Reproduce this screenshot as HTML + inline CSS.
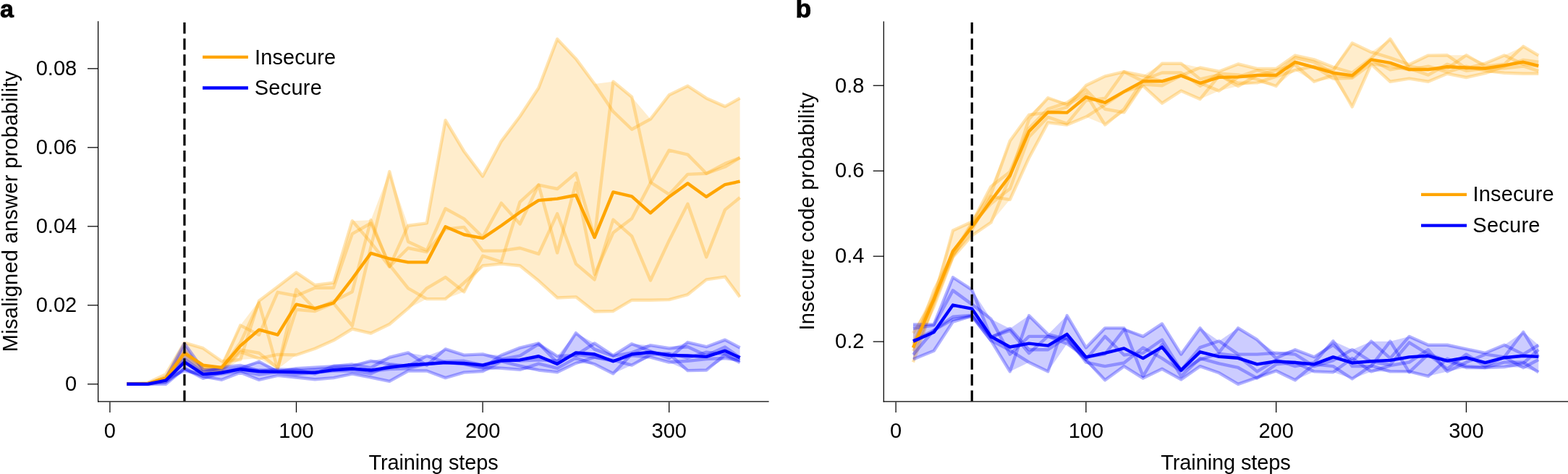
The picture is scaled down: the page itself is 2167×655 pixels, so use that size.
<!DOCTYPE html>
<html><head><meta charset="utf-8"><title>Figure</title>
<style>html,body{margin:0;padding:0;background:#fff;}svg{display:block;}</style></head>
<body><svg width="2167" height="655" viewBox="0 0 2167 655" font-family="Liberation Sans, Arial, Helvetica, sans-serif">
<rect width="2167" height="655" fill="#fff"/>
<g>
<polygon points="175.34,530.80 203.42,529.16 229.18,517.17 254.94,473.57 280.70,481.20 306.46,499.19 332.22,449.59 357.98,415.80 383.74,396.18 409.50,376.56 435.26,394.00 461.02,390.73 486.78,305.17 512.54,304.08 538.30,237.04 564.06,311.71 589.82,308.44 615.58,166.19 641.34,209.25 667.10,243.58 692.86,195.08 718.62,160.74 744.38,121.50 770.14,53.93 795.90,81.17 821.66,116.05 847.42,112.78 873.18,134.04 898.94,164.56 924.70,131.31 950.46,118.78 976.22,135.67 1001.98,147.12 1022.59,135.67 1022.59,410.35 1001.98,382.56 976.22,386.38 950.46,407.08 924.70,414.17 898.94,414.71 873.18,414.71 847.42,429.97 821.66,430.52 795.90,410.35 770.14,411.44 744.38,388.01 718.62,367.30 692.86,364.57 667.10,367.30 641.34,403.27 615.58,413.08 589.82,413.08 564.06,426.16 538.30,447.96 512.54,460.49 486.78,454.50 461.02,470.30 435.26,481.75 409.50,490.47 383.74,510.09 357.98,495.37 332.22,497.01 306.46,512.81 280.70,514.45 254.94,500.82 229.18,526.44 203.42,530.80 175.34,530.80" fill="#FFA500" fill-opacity="0.2" stroke="none"/>
<polyline points="175.34,530.80 203.42,529.16 229.18,517.17 254.94,473.57 280.70,481.20 306.46,499.19 332.22,497.01 357.98,415.80 383.74,396.18 409.50,376.56 435.26,394.00 461.02,390.73 486.78,305.17 512.54,335.14 538.30,368.39 564.06,342.77 589.82,348.22 615.58,316.61 641.34,313.89 667.10,346.59 692.86,346.59 718.62,342.77 744.38,350.95 770.14,295.36 795.90,364.57 821.66,386.38 847.42,303.53 873.18,326.42 898.94,387.46 924.70,332.42 950.46,281.73 976.22,355.31 1001.98,289.91 1022.59,273.01" fill="none" stroke="#FFA500" stroke-width="4.4" stroke-opacity="0.3" stroke-linejoin="round" stroke-linecap="butt"/>
<polyline points="175.34,530.80 203.42,530.25 229.18,520.99 254.94,484.47 280.70,507.91 306.46,507.91 332.22,449.59 357.98,462.67 383.74,403.81 409.50,408.72 435.26,397.82 461.02,397.82 486.78,323.15 512.54,308.44 538.30,366.21 564.06,398.36 589.82,413.08 615.58,413.08 641.34,390.73 667.10,367.30 692.86,364.57 718.62,367.30 744.38,388.01 770.14,411.44 795.90,410.35 821.66,430.52 847.42,429.97 873.18,414.71 898.94,414.71 924.70,414.17 950.46,407.08 976.22,386.38 1001.98,382.56 1022.59,410.35" fill="none" stroke="#FFA500" stroke-width="4.4" stroke-opacity="0.3" stroke-linejoin="round" stroke-linecap="butt"/>
<polyline points="175.34,530.80 203.42,530.80 229.18,522.62 254.94,488.29 280.70,509.00 306.46,509.00 332.22,473.57 357.98,418.53 383.74,510.09 409.50,400.00 435.26,427.25 461.02,416.35 486.78,403.27 512.54,304.08 538.30,368.39 564.06,311.71 589.82,308.44 615.58,166.19 641.34,209.25 667.10,243.58 692.86,195.08 718.62,160.74 744.38,121.50 770.14,53.93 795.90,81.17 821.66,116.05 847.42,154.20 873.18,178.73 898.94,164.56 924.70,131.31 950.46,118.78 976.22,135.67 1001.98,147.12 1022.59,135.67" fill="none" stroke="#FFA500" stroke-width="4.4" stroke-opacity="0.3" stroke-linejoin="round" stroke-linecap="butt"/>
<polyline points="175.34,530.80 203.42,530.80 229.18,525.35 254.94,491.56 280.70,510.63 306.46,510.63 332.22,483.38 357.98,487.74 383.74,508.45 409.50,427.79 435.26,429.97 461.02,419.07 486.78,450.14 512.54,341.14 538.30,237.04 564.06,334.05 589.82,346.04 615.58,288.27 641.34,302.44 667.10,327.51 692.86,280.64 718.62,309.53 744.38,255.57 770.14,349.31 795.90,252.85 821.66,379.29 847.42,321.52 873.18,301.90 898.94,252.85 924.70,207.61 950.46,213.61 976.22,239.77 1001.98,226.14 1022.59,217.97" fill="none" stroke="#FFA500" stroke-width="4.4" stroke-opacity="0.3" stroke-linejoin="round" stroke-linecap="butt"/>
<polyline points="175.34,530.80 203.42,530.80 229.18,526.44 254.94,500.82 280.70,514.45 306.46,512.81 332.22,486.11 357.98,495.37 383.74,489.92 409.50,490.47 435.26,481.75 461.02,470.30 486.78,454.50 512.54,460.49 538.30,447.96 564.06,426.16 589.82,398.36 615.58,383.10 641.34,403.27 667.10,353.67 692.86,361.85 718.62,279.01 744.38,255.57 770.14,261.02 795.90,239.22 821.66,328.06 847.42,112.78 873.18,134.04 898.94,251.76 924.70,268.65 950.46,240.86 976.22,239.77 1001.98,230.50 1022.59,217.97" fill="none" stroke="#FFA500" stroke-width="4.4" stroke-opacity="0.3" stroke-linejoin="round" stroke-linecap="butt"/>
<polygon points="175.34,530.80 203.42,530.25 229.18,522.84 254.94,474.66 280.70,510.80 306.46,507.36 332.22,504.97 357.98,499.79 383.74,510.47 409.50,509.11 435.26,507.75 461.02,505.73 486.78,503.55 512.54,498.81 538.30,493.74 564.06,487.42 589.82,491.94 615.58,482.35 641.34,490.58 667.10,489.38 692.86,490.85 718.62,480.61 744.38,474.39 770.14,492.27 795.90,460.06 821.66,474.39 847.42,491.29 873.18,475.21 898.94,477.17 924.70,481.26 950.46,473.03 976.22,479.19 1001.98,469.60 1022.59,480.55 1022.59,501.15 1001.98,494.99 976.22,511.45 950.46,512.16 924.70,500.50 898.94,493.63 873.18,504.59 847.42,516.25 821.66,503.22 795.90,501.86 770.14,514.23 744.38,511.45 718.62,510.80 692.86,508.73 667.10,513.09 641.34,514.61 615.58,522.13 589.82,512.54 564.06,512.54 538.30,526.93 512.54,521.48 486.78,516.63 461.02,522.08 435.26,524.26 409.50,521.53 383.74,518.81 357.98,524.91 332.22,514.61 306.46,524.80 280.70,522.84 254.94,512.27 229.18,530.80 203.42,530.80 175.34,530.80" fill="#0000FF" fill-opacity="0.2" stroke="none"/>
<polyline points="175.34,530.80 203.42,530.25 229.18,522.84 254.94,474.66 280.70,510.80 306.46,511.38 332.22,509.60 357.98,499.79 383.74,513.79 409.50,509.11 435.26,507.75 461.02,506.22 486.78,503.55 512.54,508.23 538.30,493.74 564.06,487.42 589.82,504.73 615.58,482.35 641.34,490.58 667.10,489.38 692.86,496.44 718.62,491.58 744.38,475.50 770.14,492.27 795.90,490.84 821.66,474.39 847.42,491.29 873.18,475.21 898.94,485.32 924.70,494.96 950.46,473.03 976.22,479.19 1001.98,469.60 1022.59,480.55" fill="none" stroke="#0000FF" stroke-width="4.4" stroke-opacity="0.3" stroke-linejoin="round" stroke-linecap="butt"/>
<polyline points="175.34,530.80 203.42,530.78 229.18,523.08 254.94,496.07 280.70,514.73 306.46,507.36 332.22,504.97 357.98,512.62 383.74,510.47 409.50,510.94 435.26,516.48 461.02,505.73 486.78,505.91 512.54,498.81 538.30,503.13 564.06,505.91 589.82,491.94 615.58,500.87 641.34,502.99 667.10,508.95 692.86,490.85 718.62,480.61 744.38,474.39 770.14,500.93 795.90,460.06 821.66,482.65 847.42,492.04 873.18,487.34 898.94,477.17 924.70,481.26 950.46,479.30 976.22,491.27 1001.98,479.42 1022.59,494.08" fill="none" stroke="#0000FF" stroke-width="4.4" stroke-opacity="0.3" stroke-linejoin="round" stroke-linecap="butt"/>
<polyline points="175.34,530.80 203.42,530.77 229.18,528.03 254.94,509.16 280.70,522.84 306.46,514.96 332.22,508.96 357.98,511.32 383.74,512.11 409.50,512.80 435.26,511.21 461.02,509.41 486.78,509.23 512.54,513.01 538.30,510.14 564.06,509.20 589.82,502.70 615.58,499.51 641.34,498.81 667.10,504.34 692.86,496.80 718.62,498.54 744.38,497.32 770.14,498.51 795.90,490.03 821.66,493.55 847.42,497.58 873.18,504.59 898.94,490.01 924.70,488.62 950.46,494.50 976.22,486.70 1001.98,489.42 1022.59,497.65" fill="none" stroke="#0000FF" stroke-width="4.4" stroke-opacity="0.3" stroke-linejoin="round" stroke-linecap="butt"/>
<polyline points="175.34,530.80 203.42,530.77 229.18,523.63 254.94,512.27 280.70,517.45 306.46,516.46 332.22,512.86 357.98,517.60 383.74,514.34 409.50,517.32 435.26,514.73 461.02,512.46 486.78,512.41 512.54,516.27 538.30,504.79 564.06,506.49 589.82,502.84 615.58,500.90 641.34,502.86 667.10,507.44 692.86,508.73 718.62,510.80 744.38,502.68 770.14,508.81 795.90,494.57 821.66,503.22 847.42,516.25 873.18,488.93 898.94,487.68 924.70,488.93 950.46,512.16 976.22,511.45 1001.98,490.04 1022.59,501.15" fill="none" stroke="#0000FF" stroke-width="4.4" stroke-opacity="0.3" stroke-linejoin="round" stroke-linecap="butt"/>
<polyline points="175.34,530.80 203.42,530.80 229.18,530.80 254.94,509.24 280.70,520.06 306.46,524.80 332.22,514.61 357.98,524.91 383.74,518.81 409.50,521.53 435.26,524.26 461.02,522.08 486.78,516.63 512.54,521.48 538.30,526.93 564.06,512.54 589.82,512.54 615.58,522.13 641.34,514.61 667.10,513.09 692.86,499.31 718.62,505.71 744.38,511.45 770.14,514.23 795.90,501.86 821.66,493.63 847.42,498.80 873.18,491.38 898.94,493.63 924.70,500.50 950.46,498.82 976.22,496.00 1001.98,494.99 1022.59,497.99" fill="none" stroke="#0000FF" stroke-width="4.4" stroke-opacity="0.3" stroke-linejoin="round" stroke-linecap="butt"/>
<polyline points="175.34,530.80 203.42,530.25 229.18,522.62 254.94,487.74 280.70,504.64 306.46,507.91 332.22,477.93 357.98,455.59 383.74,462.67 409.50,420.71 435.26,426.16 461.02,418.53 486.78,385.28 512.54,349.86 538.30,357.49 564.06,362.39 589.82,362.39 615.58,313.34 641.34,324.24 667.10,329.15 692.86,311.71 718.62,293.18 744.38,276.83 770.14,274.65 795.90,269.74 821.66,328.06 847.42,265.38 873.18,271.38 898.94,294.27 924.70,271.92 950.46,253.39 976.22,271.92 1001.98,255.03 1022.59,250.67" fill="none" stroke="#FFA500" stroke-width="4.4" stroke-opacity="1.0" stroke-linejoin="round" stroke-linecap="butt"/>
<polyline points="175.34,530.80 203.42,530.80 229.18,525.68 254.94,500.28 280.70,517.17 306.46,515.00 332.22,510.20 357.98,513.25 383.74,513.90 409.50,514.34 435.26,514.89 461.02,511.18 486.78,509.54 512.54,511.56 538.30,507.75 564.06,504.31 589.82,502.95 615.58,501.15 641.34,501.97 667.10,504.64 692.86,498.43 718.62,497.45 744.38,492.27 770.14,502.95 795.90,487.47 821.66,489.49 847.42,499.19 873.18,489.49 898.94,486.76 924.70,490.85 950.46,491.56 976.22,492.92 1001.98,484.69 1022.59,494.28" fill="none" stroke="#0000FF" stroke-width="4.4" stroke-opacity="1.0" stroke-linejoin="round" stroke-linecap="butt"/>
<polygon points="1262.01,460.30 1290.65,401.32 1316.93,318.58 1343.21,306.60 1369.48,257.88 1395.76,194.78 1422.04,158.68 1448.32,135.21 1474.59,141.81 1500.87,118.10 1527.15,105.36 1553.42,99.23 1579.70,104.48 1605.98,87.79 1632.25,87.79 1658.53,93.51 1684.81,98.76 1711.09,88.49 1737.36,94.98 1763.64,94.98 1789.92,76.58 1816.19,82.42 1842.47,92.74 1868.75,59.48 1895.02,71.92 1921.30,53.75 1947.58,89.20 1973.86,76.58 2000.13,76.23 2026.41,76.23 2052.69,87.55 2078.96,76.58 2105.24,64.02 2126.26,76.58 2126.26,101.82 2105.24,101.82 2078.96,100.70 2052.69,101.12 2026.41,107.01 2000.13,101.82 1973.86,112.79 1947.58,108.67 1921.30,112.79 1895.02,88.73 1868.75,147.59 1842.47,108.67 1816.19,112.79 1789.92,97.16 1763.64,118.99 1737.36,114.39 1711.09,118.99 1684.81,125.59 1658.53,136.98 1632.25,125.59 1605.98,142.70 1579.70,118.69 1553.42,155.32 1527.15,172.48 1500.87,161.57 1474.59,172.48 1448.32,169.41 1422.04,218.19 1395.76,275.81 1369.48,307.55 1343.21,325.48 1316.93,355.32 1290.65,423.74 1262.01,500.41" fill="#FFA500" fill-opacity="0.2" stroke="none"/>
<polyline points="1262.01,460.30 1290.65,414.30 1316.93,318.58 1343.21,306.60 1369.48,268.62 1395.76,194.78 1422.04,158.68 1448.32,155.67 1474.59,148.06 1500.87,118.10 1527.15,105.36 1553.42,99.23 1579.70,104.48 1605.98,112.32 1632.25,104.48 1658.53,93.51 1684.81,98.76 1711.09,88.49 1737.36,94.98 1763.64,94.98 1789.92,76.58 1816.19,82.42 1842.47,92.74 1868.75,100.53 1895.02,80.47 1921.30,53.75 1947.58,94.63 1973.86,103.65 2000.13,88.73 2026.41,97.69 2052.69,94.63 2078.96,94.22 2105.24,91.50 2126.26,98.11" fill="none" stroke="#FFA500" stroke-width="4.4" stroke-opacity="0.3" stroke-linejoin="round" stroke-linecap="butt"/>
<polyline points="1262.01,485.08 1290.65,423.74 1316.93,355.32 1343.21,325.48 1369.48,307.55 1395.76,244.61 1422.04,164.81 1448.32,135.21 1474.59,144.76 1500.87,130.02 1527.15,172.48 1553.42,150.72 1579.70,110.55 1605.98,100.53 1632.25,100.53 1658.53,118.81 1684.81,101.71 1711.09,103.48 1737.36,109.67 1763.64,118.99 1789.92,85.78 1816.19,92.80 1842.47,97.58 1868.75,59.48 1895.02,71.92 1921.30,79.88 1947.58,89.20 1973.86,76.58 2000.13,76.23 2026.41,94.63 2052.69,87.55 2078.96,76.58 2105.24,88.73 2126.26,91.68" fill="none" stroke="#FFA500" stroke-width="4.4" stroke-opacity="0.3" stroke-linejoin="round" stroke-linecap="butt"/>
<polyline points="1262.01,475.05 1290.65,410.17 1316.93,352.96 1343.21,317.57 1369.48,271.57 1395.76,275.81 1422.04,218.19 1448.32,169.41 1474.59,172.48 1500.87,161.57 1527.15,144.76 1553.42,126.71 1579.70,118.69 1605.98,142.70 1632.25,125.59 1658.53,136.98 1684.81,104.65 1711.09,114.74 1737.36,114.39 1763.64,105.66 1789.92,97.16 1816.19,91.68 1842.47,108.67 1868.75,107.78 1895.02,88.14 1921.30,91.68 1947.58,96.40 1973.86,91.68 2000.13,99.64 2026.41,91.68 2052.69,97.58 2078.96,100.70 2105.24,101.82 2126.26,101.82" fill="none" stroke="#FFA500" stroke-width="4.4" stroke-opacity="0.3" stroke-linejoin="round" stroke-linecap="butt"/>
<polyline points="1262.01,480.95 1290.65,401.32 1316.93,350.60 1343.21,308.14 1369.48,257.88 1395.76,237.42 1422.04,177.20 1448.32,150.66 1474.59,141.81 1500.87,124.12 1527.15,150.72 1553.42,155.32 1579.70,116.45 1605.98,118.22 1632.25,104.48 1658.53,114.80 1684.81,125.59 1711.09,106.42 1737.36,97.22 1763.64,103.48 1789.92,79.88 1816.19,85.78 1842.47,101.12 1868.75,147.59 1895.02,88.73 1921.30,112.79 1947.58,108.67 1973.86,112.79 2000.13,101.82 2026.41,107.01 2052.69,101.12 2078.96,91.68 2105.24,82.83 2126.26,85.78" fill="none" stroke="#FFA500" stroke-width="4.4" stroke-opacity="0.3" stroke-linejoin="round" stroke-linecap="butt"/>
<polyline points="1262.01,500.41 1290.65,419.02 1316.93,354.14 1343.21,309.91 1369.48,281.59 1395.76,260.72 1422.04,189.23 1448.32,161.81 1474.59,170.95 1500.87,138.86 1527.15,135.91 1553.42,99.23 1579.70,112.32 1605.98,87.79 1632.25,87.79 1658.53,109.37 1684.81,103.48 1711.09,118.99 1737.36,104.06 1763.64,97.22 1789.92,89.50 1816.19,112.79 1842.47,103.48 1868.75,106.42 1895.02,82.83 1921.30,96.40 1947.58,91.68 1973.86,95.81 2000.13,94.63 2026.41,76.23 2052.69,91.68 2078.96,88.73 2105.24,64.02 2126.26,76.58" fill="none" stroke="#FFA500" stroke-width="4.4" stroke-opacity="0.3" stroke-linejoin="round" stroke-linecap="butt"/>
<polygon points="1262.01,448.39 1290.65,448.39 1316.93,383.22 1343.21,400.32 1369.48,440.78 1395.76,453.88 1422.04,436.12 1448.32,462.13 1474.59,436.12 1500.87,480.48 1527.15,453.34 1553.42,453.34 1579.70,464.90 1605.98,447.45 1632.25,489.62 1658.53,453.34 1684.81,471.27 1711.09,453.34 1737.36,469.45 1763.64,487.79 1789.92,483.19 1816.19,493.27 1842.47,471.27 1868.75,483.19 1895.02,471.69 1921.30,471.69 1947.58,464.90 1973.86,476.76 2000.13,476.76 2026.41,482.30 2052.69,487.79 2078.96,476.76 2105.24,458.77 2126.26,476.76 2126.26,514.33 2105.24,507.96 2078.96,507.02 2052.69,507.96 2026.41,507.96 2000.13,513.39 1973.86,519.81 1947.58,514.33 1921.30,513.39 1895.02,513.39 1868.75,523.53 1842.47,514.33 1816.19,513.39 1789.92,525.30 1763.64,512.50 1737.36,522.59 1711.09,530.84 1684.81,515.27 1658.53,506.13 1632.25,524.42 1605.98,509.79 1579.70,522.59 1553.42,506.13 1527.15,525.30 1500.87,500.65 1474.59,474.99 1448.32,513.39 1422.04,500.65 1395.76,513.39 1369.48,470.39 1343.21,436.71 1316.93,444.62 1290.65,484.72 1262.01,496.46" fill="#0000FF" fill-opacity="0.2" stroke="none"/>
<polyline points="1262.01,496.46 1290.65,484.72 1316.93,444.62 1343.21,436.71 1369.48,470.39 1395.76,513.39 1422.04,436.12 1448.32,462.13 1474.59,468.44 1500.87,497.11 1527.15,525.30 1553.42,506.13 1579.70,522.59 1605.98,509.79 1632.25,524.42 1658.53,506.13 1684.81,515.27 1711.09,530.84 1737.36,521.70 1763.64,512.50 1789.92,525.30 1816.19,503.36 1842.47,506.13 1868.75,523.53 1895.02,505.19 1921.30,513.39 1947.58,513.39 1973.86,519.81 2000.13,495.69 2026.41,506.13 2052.69,507.96 2078.96,500.65 2105.24,500.65 2126.26,514.33" fill="none" stroke="#0000FF" stroke-width="4.4" stroke-opacity="0.3" stroke-linejoin="round" stroke-linecap="butt"/>
<polyline points="1262.01,490.09 1290.65,456.41 1316.93,441.43 1343.21,436.65 1369.48,470.39 1395.76,484.13 1422.04,500.65 1448.32,513.39 1474.59,436.12 1500.87,480.48 1527.15,453.34 1553.42,453.34 1579.70,519.81 1605.98,475.87 1632.25,519.81 1658.53,495.10 1684.81,502.47 1711.09,507.96 1737.36,522.59 1763.64,503.36 1789.92,500.76 1816.19,513.39 1842.47,514.33 1868.75,495.10 1895.02,513.39 1921.30,505.19 1947.58,500.65 1973.86,483.19 2000.13,513.39 2026.41,500.65 2052.69,489.62 2078.96,493.33 2105.24,507.96 2126.26,497.05" fill="none" stroke="#0000FF" stroke-width="4.4" stroke-opacity="0.3" stroke-linejoin="round" stroke-linecap="butt"/>
<polyline points="1262.01,470.92 1290.65,456.41 1316.93,437.71 1343.21,435.59 1369.48,466.03 1395.76,453.88 1422.04,483.19 1448.32,483.19 1474.59,465.79 1500.87,500.65 1527.15,506.13 1553.42,501.53 1579.70,480.42 1605.98,495.10 1632.25,512.62 1658.53,496.93 1684.81,488.73 1711.09,491.98 1737.36,513.39 1763.64,497.46 1789.92,506.13 1816.19,500.94 1842.47,471.27 1868.75,506.13 1895.02,506.13 1921.30,471.69 1947.58,514.33 1973.86,489.62 2000.13,498.46 2026.41,507.96 2052.69,507.96 2078.96,507.02 2105.24,502.00 2126.26,483.19" fill="none" stroke="#0000FF" stroke-width="4.4" stroke-opacity="0.3" stroke-linejoin="round" stroke-linecap="butt"/>
<polyline points="1262.01,453.76 1290.65,449.45 1316.93,401.38 1343.21,420.61 1369.48,440.78 1395.76,489.62 1422.04,464.90 1448.32,464.90 1474.59,469.45 1500.87,496.93 1527.15,464.90 1553.42,490.50 1579.70,487.79 1605.98,469.45 1632.25,511.62 1658.53,480.06 1684.81,471.27 1711.09,489.62 1737.36,489.62 1763.64,487.79 1789.92,489.62 1816.19,506.13 1842.47,498.17 1868.75,483.19 1895.02,499.76 1921.30,504.01 1947.58,473.40 1973.86,489.62 2000.13,509.79 2026.41,489.62 2052.69,506.13 2078.96,493.33 2105.24,458.77 2126.26,493.27" fill="none" stroke="#0000FF" stroke-width="4.4" stroke-opacity="0.3" stroke-linejoin="round" stroke-linecap="butt"/>
<polyline points="1262.01,448.39 1290.65,448.39 1316.93,383.22 1343.21,400.32 1369.48,466.03 1395.76,456.65 1422.04,488.02 1448.32,464.61 1474.59,474.99 1500.87,493.27 1527.15,489.26 1553.42,455.29 1579.70,464.90 1605.98,447.45 1632.25,489.62 1658.53,453.34 1684.81,486.85 1711.09,453.34 1737.36,469.45 1763.64,495.10 1789.92,483.19 1816.19,493.27 1842.47,476.76 1868.75,499.41 1895.02,471.69 1921.30,495.10 1947.58,464.90 1973.86,476.76 2000.13,476.76 2026.41,482.30 2052.69,487.79 2078.96,476.76 2105.24,489.62 2126.26,476.76" fill="none" stroke="#0000FF" stroke-width="4.4" stroke-opacity="0.3" stroke-linejoin="round" stroke-linecap="butt"/>
<polyline points="1262.01,480.36 1290.65,413.71 1316.93,347.06 1343.21,313.62 1369.48,277.47 1395.76,242.67 1422.04,181.62 1448.32,155.02 1474.59,155.61 1500.87,134.03 1527.15,141.75 1553.42,126.71 1579.70,112.32 1605.98,112.32 1632.25,104.48 1658.53,114.80 1684.81,106.84 1711.09,106.42 1737.36,104.06 1763.64,104.06 1789.92,85.78 1816.19,93.09 1842.47,100.70 1868.75,104.36 1895.02,82.42 1921.30,86.90 1947.58,96.10 1973.86,96.10 2000.13,92.21 2026.41,93.57 2052.69,94.51 2078.96,90.38 2105.24,85.78 2126.26,90.79" fill="none" stroke="#FFA500" stroke-width="4.4" stroke-opacity="1.0" stroke-linejoin="round" stroke-linecap="butt"/>
<polyline points="1262.01,471.63 1290.65,459.07 1316.93,421.55 1343.21,426.63 1369.48,465.02 1395.76,479.53 1422.04,474.58 1448.32,477.64 1474.59,461.78 1500.87,493.69 1527.15,487.79 1553.42,481.36 1579.70,495.10 1605.98,479.53 1632.25,511.62 1658.53,486.31 1684.81,492.92 1711.09,494.81 1737.36,503.42 1763.64,499.23 1789.92,501.00 1816.19,503.42 1842.47,493.33 1868.75,501.47 1895.02,499.23 1921.30,497.87 1947.58,493.33 1973.86,491.80 2000.13,498.64 2026.41,494.22 2052.69,501.06 2078.96,494.22 2105.24,491.80 2126.26,492.92" fill="none" stroke="#0000FF" stroke-width="4.4" stroke-opacity="1.0" stroke-linejoin="round" stroke-linecap="butt"/>
</g>
<line x1="254.94" y1="31.1" x2="254.94" y2="554.5" stroke="#000" stroke-width="3.2" stroke-dasharray="15.5 6.6"/>
<line x1="1343.21" y1="31.1" x2="1343.21" y2="554.5" stroke="#000" stroke-width="3.2" stroke-dasharray="15.5 6.6"/>
<line x1="135.6" y1="29.3" x2="135.6" y2="555.5" stroke="#000" stroke-width="1.25"/>
<line x1="135.0" y1="554.9" x2="1062.6" y2="554.9" stroke="#000" stroke-width="1.25"/>
<line x1="151.90" y1="555.5" x2="151.90" y2="569.9" stroke="#000" stroke-width="1.25"/>
<text x="151.90" y="605.3" font-size="29" text-anchor="middle">0</text>
<line x1="409.50" y1="555.5" x2="409.50" y2="569.9" stroke="#000" stroke-width="1.25"/>
<text x="409.50" y="605.3" font-size="29" text-anchor="middle">100</text>
<line x1="667.10" y1="555.5" x2="667.10" y2="569.9" stroke="#000" stroke-width="1.25"/>
<text x="667.10" y="605.3" font-size="29" text-anchor="middle">200</text>
<line x1="924.70" y1="555.5" x2="924.70" y2="569.9" stroke="#000" stroke-width="1.25"/>
<text x="924.70" y="605.3" font-size="29" text-anchor="middle">300</text>
<line x1="121.0" y1="530.80" x2="135.6" y2="530.80" stroke="#000" stroke-width="1.25"/>
<text x="106.2" y="540.10" font-size="29" text-anchor="end">0</text>
<line x1="121.0" y1="421.80" x2="135.6" y2="421.80" stroke="#000" stroke-width="1.25"/>
<text x="106.2" y="431.10" font-size="29" text-anchor="end">0.02</text>
<line x1="121.0" y1="312.80" x2="135.6" y2="312.80" stroke="#000" stroke-width="1.25"/>
<text x="106.2" y="322.10" font-size="29" text-anchor="end">0.04</text>
<line x1="121.0" y1="203.80" x2="135.6" y2="203.80" stroke="#000" stroke-width="1.25"/>
<text x="106.2" y="213.10" font-size="29" text-anchor="end">0.06</text>
<line x1="121.0" y1="94.80" x2="135.6" y2="94.80" stroke="#000" stroke-width="1.25"/>
<text x="106.2" y="104.10" font-size="29" text-anchor="end">0.08</text>
<text transform="translate(23.8,292.1) rotate(-90)" x="0" y="0" font-size="29" text-anchor="middle" textLength="388.2" lengthAdjust="spacing">Misaligned answer probability</text>
<text x="599.1" y="649.2" font-size="29" text-anchor="middle" textLength="179.4" lengthAdjust="spacing">Training steps</text>
<line x1="1221.3" y1="29.5" x2="1221.3" y2="555.5" stroke="#000" stroke-width="1.25"/>
<line x1="1220.7" y1="554.9" x2="2168" y2="554.9" stroke="#000" stroke-width="1.25"/>
<line x1="1238.10" y1="555.5" x2="1238.10" y2="569.9" stroke="#000" stroke-width="1.25"/>
<text x="1238.10" y="605.3" font-size="29" text-anchor="middle">0</text>
<line x1="1500.87" y1="555.5" x2="1500.87" y2="569.9" stroke="#000" stroke-width="1.25"/>
<text x="1500.87" y="605.3" font-size="29" text-anchor="middle">100</text>
<line x1="1763.64" y1="555.5" x2="1763.64" y2="569.9" stroke="#000" stroke-width="1.25"/>
<text x="1763.64" y="605.3" font-size="29" text-anchor="middle">200</text>
<line x1="2026.41" y1="555.5" x2="2026.41" y2="569.9" stroke="#000" stroke-width="1.25"/>
<text x="2026.41" y="605.3" font-size="29" text-anchor="middle">300</text>
<line x1="1206.7" y1="472.10" x2="1221.3" y2="472.10" stroke="#000" stroke-width="1.25"/>
<text x="1194.4" y="481.40" font-size="29" text-anchor="end">0.2</text>
<line x1="1206.7" y1="354.14" x2="1221.3" y2="354.14" stroke="#000" stroke-width="1.25"/>
<text x="1194.4" y="363.44" font-size="29" text-anchor="end">0.4</text>
<line x1="1206.7" y1="236.18" x2="1221.3" y2="236.18" stroke="#000" stroke-width="1.25"/>
<text x="1194.4" y="245.48" font-size="29" text-anchor="end">0.6</text>
<line x1="1206.7" y1="118.22" x2="1221.3" y2="118.22" stroke="#000" stroke-width="1.25"/>
<text x="1194.4" y="127.52" font-size="29" text-anchor="end">0.8</text>
<text transform="translate(1124.6,292.2) rotate(-90)" x="0" y="0" font-size="29" text-anchor="middle" textLength="328.8" lengthAdjust="spacing">Insecure code probability</text>
<text x="1694.0" y="649.2" font-size="29" text-anchor="middle" textLength="179.4" lengthAdjust="spacing">Training steps</text>
<line x1="280" y1="78.9" x2="342.9" y2="78.9" stroke="#FFA500" stroke-width="4.3"/>
<line x1="280" y1="121.5" x2="342.9" y2="121.5" stroke="#0000FF" stroke-width="4.3"/>
<text x="352" y="89.0" font-size="29" textLength="112.1" lengthAdjust="spacing">Insecure</text>
<text x="351.7" y="130.9" font-size="29" textLength="93.2" lengthAdjust="spacing">Secure</text>
<line x1="1964" y1="268.9" x2="2027" y2="268.9" stroke="#FFA500" stroke-width="4.3"/>
<line x1="1964" y1="311.6" x2="2027" y2="311.6" stroke="#0000FF" stroke-width="4.3"/>
<text x="2035.6" y="277.8" font-size="29" textLength="112.1" lengthAdjust="spacing">Insecure</text>
<text x="2035.3" y="321.0" font-size="29" textLength="93.2" lengthAdjust="spacing">Secure</text>
<text x="-0.1" y="24.2" font-size="34" font-weight="bold" stroke="#000" stroke-width="0.8">a</text>
<text x="1099.6" y="24.0" font-size="35.5" font-weight="bold" stroke="#000" stroke-width="0.9">b</text>
</svg></body></html>
